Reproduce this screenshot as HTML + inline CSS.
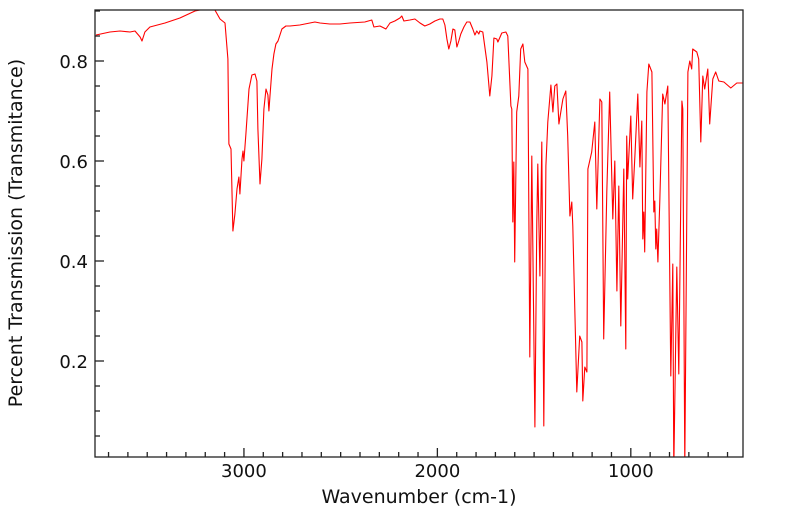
<!DOCTYPE html>
<html><head><meta charset="utf-8"><style>
body{margin:0;background:#fff;width:799px;height:516px;overflow:hidden}
svg{display:block;font-family:"DejaVu Sans","Liberation Sans",sans-serif}
</style></head><body>
<svg id="chart" width="799" height="516">
<defs><clipPath id="plotclip"><rect x="95" y="10" width="648" height="447"/></clipPath></defs>
<g id="axes"></g>
<g clip-path="url(#plotclip)"><path id="spectrum" fill="none" stroke="#ff0000" stroke-width="1.1" stroke-linejoin="round"/></g>
<rect x="95" y="10" width="648" height="447" fill="none" stroke="#222" stroke-width="1.3"/>
<text x="419" y="503" text-anchor="middle" font-size="19" fill="#111">Wavenumber (cm-1)</text>
<text transform="translate(22,233) rotate(-90)" text-anchor="middle" font-size="19" fill="#111">Percent Transmission (Transmitance)</text>
</svg>
<script>
const wavenumbers=[3765,3693,3641,3589,3563,3537,3527,3512,3486,3408,3331,3253,3202,3150,3124,3098,3083,3078,3067,3057,3047,3036,3026,3021,3010,3005,3000,2990,2974,2959,2943,2933,2928,2917,2907,2897,2886,2876,2871,2866,2855,2845,2835,2824,2804,2783,2762,2711,2633,2607,2556,2504,2452,2375,2339,2328,2297,2266,2245,2220,2194,2184,2173,2142,2116,2090,2065,2039,2013,1987,1972,1961,1951,1941,1930,1920,1910,1899,1889,1879,1863,1848,1832,1817,1806,1796,1786,1780,1765,1744,1729,1718,1708,1693,1687,1667,1646,1636,1620,1615,1610,1605,1600,1590,1579,1569,1558,1548,1532,1522,1512,1496,1486,1481,1470,1460,1450,1439,1429,1413,1403,1393,1382,1372,1362,1351,1336,1326,1315,1305,1300,1279,1264,1253,1248,1238,1227,1222,1202,1186,1176,1160,1150,1140,1124,1109,1093,1083,1072,1062,1052,1036,1026,1021,1016,1000,990,979,964,953,943,938,933,928,917,907,891,881,876,871,866,860,850,835,824,809,793,783,778,762,752,736,731,721,705,695,685,680,659,649,638,628,618,602,592,576,561,545,519,483,452,421];
const transmission=[.852,.858,.860,.858,.860,.848,.840,.858,.868,.876,.886,.900,.904,.902,.884,.876,.804,.634,.624,.460,.494,.544,.568,.534,.604,.620,.600,.654,.744,.772,.774,.760,.664,.554,.604,.704,.744,.732,.700,.728,.784,.814,.834,.840,.864,.870,.870,.872,.878,.876,.874,.874,.876,.878,.882,.868,.870,.864,.876,.880,.886,.890,.880,.882,.884,.876,.870,.874,.880,.884,.884,.872,.844,.824,.840,.864,.862,.828,.840,.854,.868,.878,.878,.864,.852,.860,.854,.860,.858,.798,.730,.770,.846,.844,.838,.856,.858,.850,.710,.704,.478,.598,.398,.698,.730,.824,.834,.798,.784,.208,.610,.068,.478,.594,.370,.638,.070,.590,.678,.752,.698,.750,.754,.674,.698,.724,.740,.650,.490,.518,.470,.138,.250,.238,.120,.188,.178,.584,.618,.678,.504,.724,.718,.244,.538,.738,.484,.600,.340,.550,.270,.584,.224,.650,.564,.690,.524,.610,.734,.588,.680,.444,.498,.418,.738,.794,.778,.498,.520,.424,.464,.398,.520,.734,.714,.750,.170,.394,-0.016,.388,.174,.720,.704,-0.010,.778,.800,.784,.824,.818,.804,.638,.770,.744,.784,.674,.764,.778,.760,.758,.746,.756,.756];
const xTicksMajor=[3000,2000,1000];
const yTicksMajor=[0.2,0.4,0.6,0.8];
const NS="http://www.w3.org/2000/svg";
const X0=95,X1=743,Y0=457,Y1=10,WMAX=3770,WMIN=420,TMIN=0.008,TMAX=0.902;
function xs(w){return X0+(WMAX-w)/(WMAX-WMIN)*(X1-X0);}
function ys(t){return Y0-(t-TMIN)/(TMAX-TMIN)*(Y0-Y1);}
let d="";
for(let i=0;i<wavenumbers.length;i++){d+=(i?"L":"M")+xs(wavenumbers[i]).toFixed(1)+","+ys(transmission[i]).toFixed(1);}
document.getElementById("spectrum").setAttribute("d",d);
const ax=document.getElementById("axes");
function line(x1,y1,x2,y2,name){const l=document.createElementNS(NS,"line");l.setAttribute("x1",x1);l.setAttribute("y1",y1);l.setAttribute("x2",x2);l.setAttribute("y2",y2);l.setAttribute("stroke","#222");l.setAttribute("stroke-width","1.3");


ax.appendChild(l);}
function text(x,y,s,anchor,name){const t=document.createElementNS(NS,"text");t.setAttribute("x",x);t.setAttribute("y",y);t.setAttribute("text-anchor",anchor);t.setAttribute("font-size","18");t.setAttribute("fill","#111");t.textContent=s;


ax.appendChild(t);}
for(let w=3700;w>=WMIN;w-=100){const x=xs(w);const major=xTicksMajor.includes(w);line(x,Y0,x,Y0-(major?9:5),"x-tick");}
xTicksMajor.forEach(w=>text(xs(w),477,String(w),"middle","x-tick-label"));
for(let k=1;k<=18;k++){const t=k*0.05;const y=ys(t);if(y<Y1)break;const major=yTicksMajor.some(v=>Math.abs(v-t)<1e-6);line(X0,y,X0+(major?9:5),y,"y-tick");}
yTicksMajor.forEach(t=>text(88,ys(t)+7,t.toFixed(1),"end","y-tick-label"));
</script>
</body></html>
